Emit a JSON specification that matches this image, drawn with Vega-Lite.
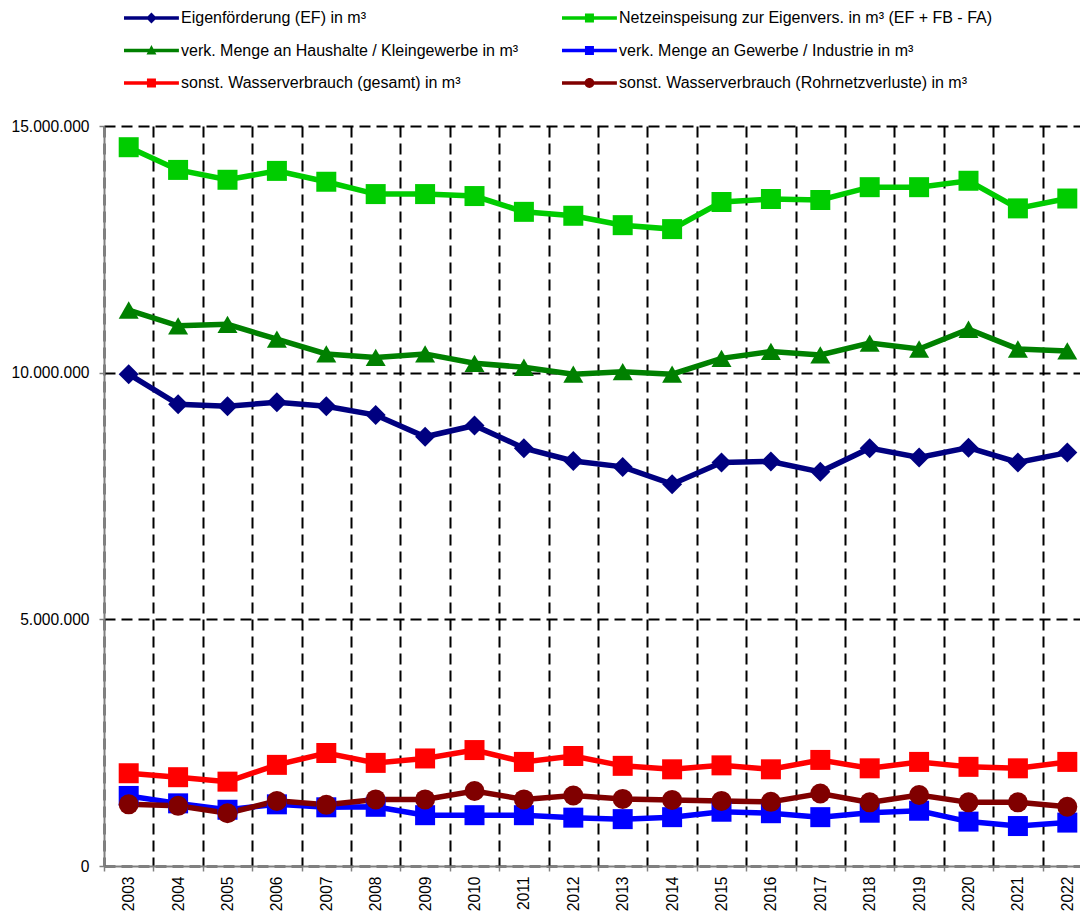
{
  "$schema": "https://vega.github.io/schema/vega-lite/v6.json",
  "autosize": {"type": "none"},
  "padding": {"left": 104, "top": 126, "right": 0, "bottom": 48},
  "width": 976,
  "height": 740,
  "background": "white",
  "config": {
    "view": {"stroke": null},
    "font": "Liberation Sans",
    "axis": {"labelFont": "Liberation Sans", "labelColor": "#000000", "labelFontSize": 15.6},
    "legend": {
      "orient": "none",
      "direction": "horizontal",
      "legendX": 20,
      "legendY": -117,
      "columns": 2,
      "padding": 0,
      "symbolSize": 324,
      "symbolStrokeWidth": 0,
      "symbolOpacity": 1,
      "labelOffset": 39,
      "columnPadding": 43,
      "rowPadding": 15.5,
      "labelFont": "Liberation Sans",
      "labelFontSize": 16,
      "labelColor": "#000000",
      "labelLimit": 600
    }
  },
  "data": {
    "values": [
      {"year": "2003", "series": "EF", "value": 9970000},
      {"year": "2004", "series": "EF", "value": 9360000},
      {"year": "2005", "series": "EF", "value": 9320000},
      {"year": "2006", "series": "EF", "value": 9400000},
      {"year": "2007", "series": "EF", "value": 9320000},
      {"year": "2008", "series": "EF", "value": 9140000},
      {"year": "2009", "series": "EF", "value": 8700000},
      {"year": "2010", "series": "EF", "value": 8930000},
      {"year": "2011", "series": "EF", "value": 8470000},
      {"year": "2012", "series": "EF", "value": 8210000},
      {"year": "2013", "series": "EF", "value": 8090000},
      {"year": "2014", "series": "EF", "value": 7740000},
      {"year": "2015", "series": "EF", "value": 8180000},
      {"year": "2016", "series": "EF", "value": 8200000},
      {"year": "2017", "series": "EF", "value": 7990000},
      {"year": "2018", "series": "EF", "value": 8470000},
      {"year": "2019", "series": "EF", "value": 8280000},
      {"year": "2020", "series": "EF", "value": 8480000},
      {"year": "2021", "series": "EF", "value": 8180000},
      {"year": "2022", "series": "EF", "value": 8380000},
      {"year": "2003", "series": "NE", "value": 14570000},
      {"year": "2004", "series": "NE", "value": 14110000},
      {"year": "2005", "series": "NE", "value": 13910000},
      {"year": "2006", "series": "NE", "value": 14090000},
      {"year": "2007", "series": "NE", "value": 13870000},
      {"year": "2008", "series": "NE", "value": 13620000},
      {"year": "2009", "series": "NE", "value": 13620000},
      {"year": "2010", "series": "NE", "value": 13580000},
      {"year": "2011", "series": "NE", "value": 13260000},
      {"year": "2012", "series": "NE", "value": 13180000},
      {"year": "2013", "series": "NE", "value": 12990000},
      {"year": "2014", "series": "NE", "value": 12910000},
      {"year": "2015", "series": "NE", "value": 13460000},
      {"year": "2016", "series": "NE", "value": 13520000},
      {"year": "2017", "series": "NE", "value": 13500000},
      {"year": "2018", "series": "NE", "value": 13760000},
      {"year": "2019", "series": "NE", "value": 13760000},
      {"year": "2020", "series": "NE", "value": 13890000},
      {"year": "2021", "series": "NE", "value": 13330000},
      {"year": "2022", "series": "NE", "value": 13530000},
      {"year": "2003", "series": "HH", "value": 11270000},
      {"year": "2004", "series": "HH", "value": 10950000},
      {"year": "2005", "series": "HH", "value": 10980000},
      {"year": "2006", "series": "HH", "value": 10680000},
      {"year": "2007", "series": "HH", "value": 10380000},
      {"year": "2008", "series": "HH", "value": 10310000},
      {"year": "2009", "series": "HH", "value": 10380000},
      {"year": "2010", "series": "HH", "value": 10190000},
      {"year": "2011", "series": "HH", "value": 10110000},
      {"year": "2012", "series": "HH", "value": 9970000},
      {"year": "2013", "series": "HH", "value": 10020000},
      {"year": "2014", "series": "HH", "value": 9970000},
      {"year": "2015", "series": "HH", "value": 10290000},
      {"year": "2016", "series": "HH", "value": 10430000},
      {"year": "2017", "series": "HH", "value": 10360000},
      {"year": "2018", "series": "HH", "value": 10600000},
      {"year": "2019", "series": "HH", "value": 10480000},
      {"year": "2020", "series": "HH", "value": 10880000},
      {"year": "2021", "series": "HH", "value": 10480000},
      {"year": "2022", "series": "HH", "value": 10440000},
      {"year": "2003", "series": "GI", "value": 1420000},
      {"year": "2004", "series": "GI", "value": 1270000},
      {"year": "2005", "series": "GI", "value": 1140000},
      {"year": "2006", "series": "GI", "value": 1250000},
      {"year": "2007", "series": "GI", "value": 1190000},
      {"year": "2008", "series": "GI", "value": 1200000},
      {"year": "2009", "series": "GI", "value": 1030000},
      {"year": "2010", "series": "GI", "value": 1030000},
      {"year": "2011", "series": "GI", "value": 1030000},
      {"year": "2012", "series": "GI", "value": 980000},
      {"year": "2013", "series": "GI", "value": 950000},
      {"year": "2014", "series": "GI", "value": 990000},
      {"year": "2015", "series": "GI", "value": 1100000},
      {"year": "2016", "series": "GI", "value": 1070000},
      {"year": "2017", "series": "GI", "value": 990000},
      {"year": "2018", "series": "GI", "value": 1080000},
      {"year": "2019", "series": "GI", "value": 1120000},
      {"year": "2020", "series": "GI", "value": 900000},
      {"year": "2021", "series": "GI", "value": 810000},
      {"year": "2022", "series": "GI", "value": 880000},
      {"year": "2003", "series": "SG", "value": 1880000},
      {"year": "2004", "series": "SG", "value": 1800000},
      {"year": "2005", "series": "SG", "value": 1710000},
      {"year": "2006", "series": "SG", "value": 2050000},
      {"year": "2007", "series": "SG", "value": 2290000},
      {"year": "2008", "series": "SG", "value": 2090000},
      {"year": "2009", "series": "SG", "value": 2180000},
      {"year": "2010", "series": "SG", "value": 2350000},
      {"year": "2011", "series": "SG", "value": 2110000},
      {"year": "2012", "series": "SG", "value": 2230000},
      {"year": "2013", "series": "SG", "value": 2030000},
      {"year": "2014", "series": "SG", "value": 1960000},
      {"year": "2015", "series": "SG", "value": 2040000},
      {"year": "2016", "series": "SG", "value": 1960000},
      {"year": "2017", "series": "SG", "value": 2150000},
      {"year": "2018", "series": "SG", "value": 1980000},
      {"year": "2019", "series": "SG", "value": 2110000},
      {"year": "2020", "series": "SG", "value": 2010000},
      {"year": "2021", "series": "SG", "value": 1980000},
      {"year": "2022", "series": "SG", "value": 2110000},
      {"year": "2003", "series": "SR", "value": 1250000},
      {"year": "2004", "series": "SR", "value": 1220000},
      {"year": "2005", "series": "SR", "value": 1070000},
      {"year": "2006", "series": "SR", "value": 1320000},
      {"year": "2007", "series": "SR", "value": 1240000},
      {"year": "2008", "series": "SR", "value": 1350000},
      {"year": "2009", "series": "SR", "value": 1350000},
      {"year": "2010", "series": "SR", "value": 1520000},
      {"year": "2011", "series": "SR", "value": 1350000},
      {"year": "2012", "series": "SR", "value": 1430000},
      {"year": "2013", "series": "SR", "value": 1360000},
      {"year": "2014", "series": "SR", "value": 1340000},
      {"year": "2015", "series": "SR", "value": 1320000},
      {"year": "2016", "series": "SR", "value": 1300000},
      {"year": "2017", "series": "SR", "value": 1470000},
      {"year": "2018", "series": "SR", "value": 1290000},
      {"year": "2019", "series": "SR", "value": 1440000},
      {"year": "2020", "series": "SR", "value": 1290000},
      {"year": "2021", "series": "SR", "value": 1290000},
      {"year": "2022", "series": "SR", "value": 1200000}
    ]
  },
  "encoding": {
    "x": {
      "field": "year",
      "type": "ordinal",
      "scale": {"type": "band", "range": [0, 988], "paddingInner": 0, "paddingOuter": 0},
      "axis": {
        "title": null,
        "tickBand": "extent",
        "grid": true,
        "gridColor": "#000000",
        "gridDash": [11, 6],
        "gridWidth": 2,
        "labelAngle": -90,
        "labelAlign": "right",
        "labelBaseline": "middle",
        "labelPadding": 5,
        "domainColor": "#808080",
        "domainWidth": 2,
        "tickColor": "#808080",
        "tickWidth": 1.5,
        "tickSize": 5
      }
    },
    "y": {
      "field": "value",
      "type": "quantitative",
      "scale": {"domain": [0, 15000000], "nice": false},
      "axis": {
        "title": null,
        "values": [0, 5000000, 10000000, 15000000],
        "labelExpr": "replace(format(datum.value, ','), /,/g, '.')",
        "grid": true,
        "gridColor": "#000000",
        "gridDash": [11, 6],
        "gridWidth": 2,
        "labelPadding": 10,
        "domainColor": "#808080",
        "domainWidth": 2,
        "tickColor": "#808080",
        "tickWidth": 1.5,
        "tickSize": 5
      }
    }
  },
  "resolve": {"scale": {"shape": "independent", "color": "independent"}},
  "layer": [
    {
      "mark": {"type": "line", "strokeWidth": 5.5},
      "encoding": {
        "color": {
          "field": "series",
          "type": "nominal",
          "scale": {
            "domain": ["EF", "NE", "HH", "GI", "SG", "SR"],
            "range": ["#000080", "#00CC00", "#008000", "#0000FF", "#FF0000", "#800000"]
          },
          "legend": null
        }
      }
    },
    {
      "mark": {"type": "point", "filled": true, "opacity": 1, "size": 400},
      "encoding": {
        "color": {
          "field": "series",
          "type": "nominal",
          "scale": {
            "domain": ["EF", "NE", "HH", "GI", "SG", "SR"],
            "range": ["#000080", "#00CC00", "#008000", "#0000FF", "#FF0000", "#800000"]
          },
          "legend": null
        },
        "shape": {
          "field": "series",
          "type": "nominal",
          "scale": {
            "domain": ["EF", "NE", "HH", "GI", "SG", "SR"],
            "range": ["diamond", "square", "triangle-up", "square", "square", "circle"]
          },
          "legend": null
        }
      }
    },
    {
      "mark": {"type": "point", "filled": true, "opacity": 0, "size": 0},
      "encoding": {
        "color": {
          "field": "series",
          "type": "nominal",
          "scale": {
            "domain": ["EF", "NE", "HH", "GI", "SG", "SR"],
            "range": ["#000080", "#00CC00", "#008000", "#0000FF", "#FF0000", "#800000"]
          },
          "legend": {
            "title": null,
            "labelExpr": "datum.value == 'EF' ? 'Eigenförderung (EF) in m³' : datum.value == 'NE' ? 'Netzeinspeisung zur Eigenvers. in m³ (EF + FB - FA)' : datum.value == 'HH' ? 'verk. Menge an Haushalte / Kleingewerbe in m³' : datum.value == 'GI' ? 'verk. Menge an Gewerbe / Industrie in m³' : datum.value == 'SG' ? 'sonst. Wasserverbrauch (gesamt) in m³' : 'sonst. Wasserverbrauch (Rohrnetzverluste) in m³'"
          }
        },
        "shape": {
          "field": "series",
          "type": "nominal",
          "scale": {
            "domain": ["EF", "NE", "HH", "GI", "SG", "SR"],
            "range": [
              "M-1,-0.2H5.1V0.2H-1Z M2.05,-0.6L2.65,0L2.05,0.6L1.45,0Z",
              "M-1,-0.2H5.1V0.2H-1Z M1.55,-0.5H2.55V0.5H1.55Z",
              "M-1,-0.2H5.1V0.2H-1Z M2.05,-0.6L2.6,0.45L1.5,0.45Z",
              "M-1,-0.2H5.1V0.2H-1Z M1.55,-0.5H2.55V0.5H1.55Z",
              "M-1,-0.2H5.1V0.2H-1Z M1.55,-0.5H2.55V0.5H1.55Z",
              "M-1,-0.2H5.1V0.2H-1Z M1.5,0A0.55,0.55 0 1,1 2.6,0A0.55,0.55 0 1,1 1.5,0Z"
            ]
          },
          "legend": {
            "title": null,
            "labelExpr": "datum.value == 'EF' ? 'Eigenförderung (EF) in m³' : datum.value == 'NE' ? 'Netzeinspeisung zur Eigenvers. in m³ (EF + FB - FA)' : datum.value == 'HH' ? 'verk. Menge an Haushalte / Kleingewerbe in m³' : datum.value == 'GI' ? 'verk. Menge an Gewerbe / Industrie in m³' : datum.value == 'SG' ? 'sonst. Wasserverbrauch (gesamt) in m³' : 'sonst. Wasserverbrauch (Rohrnetzverluste) in m³'"
          }
        }
      }
    }
  ]
}
